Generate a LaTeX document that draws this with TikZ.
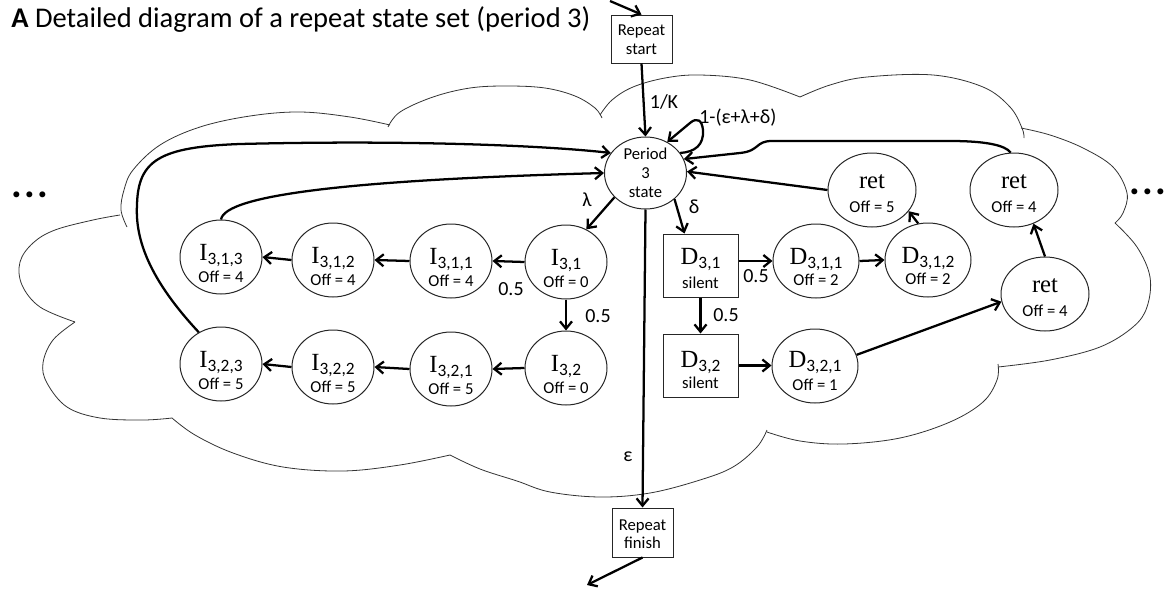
\documentclass[tikz,border=0pt]{standalone}
\usepackage{fontspec}
\setmainfont{Carlito}
\newfontfamily\tnr{Liberation Serif}
\usetikzlibrary{shapes.geometric,arrows.meta,calc}
\newcommand\lab[2]{{\tnr\fontsize{18.5}{20}\selectfont #1}\raisebox{-3pt}{\fontsize{13}{14}\selectfont #2}}
\begin{document}
\begin{tikzpicture}[x=0.75pt,y=-0.75pt,
  cl/.style={line width=0.6pt,draw=black!80},
  st/.style={ellipse,draw=black!85,line width=0.75pt,minimum width=61.5pt,minimum height=55.5pt,inner sep=0pt},
  dst/.style={st,minimum width=64.5pt},
  rst/.style={st,minimum width=66pt},
  sbox/.style={rectangle,draw=black!85,line width=0.75pt,inner sep=0pt},
  conn/.style={line width=1.7pt,-{Straight Barb[length=5.5pt,width=9pt]}},
  lbl/.style={font=\fontsize{15}{17}\selectfont,inner sep=0pt},
  sm/.style={font=\fontsize{12.5}{14}\selectfont,anchor=base,inner sep=0pt},
  bg/.style={anchor=base,inner sep=0pt},
  dots/.style={font=\fontsize{30}{30}\selectfont\bfseries,inner sep=0pt}
]
\useasboundingbox (0,0) rectangle (1168,589);

% title
\node[anchor=base west,inner sep=0pt,font=\fontsize{21.4}{24}\selectfont] (title) at (11,27) {\textbf{A} Detailed diagram of a repeat state set (period 3)};

% cloud
\draw[cl] plot[smooth,tension=0.6] coordinates {(127,227) (121,210) (124,190) (133,170) (160,145) (200,127) (250,116) (300,112) (350,117) (390,125)};
\draw[cl] plot[smooth,tension=0.6] coordinates {(388,127) (400,112) (433,97) (470,88) (507,86) (545,88) (575,96) (595,108) (602,118)};
\draw[cl] plot[smooth,tension=0.6] coordinates {(600,115) (612,100) (633,87) (665,78) (700,75) (750,80) (800,97)};
\draw[cl] plot[smooth,tension=0.6] coordinates {(800,97) (830,85) (867,77) (933,75) (983,87) (1010,107) (1022,128) (1024,138)};
\draw[cl] plot[smooth,tension=0.6] coordinates {(1021,128) (1050,135) (1083,148) (1113,167) (1127,193) (1123,213) (1115,223)};
\draw[cl] plot[smooth,tension=0.6] coordinates {(1115,223) (1137,247) (1150,277) (1147,307) (1133,327) (1100,347) (1050,360) (998,367)};
\draw[cl] plot[smooth,tension=0.6] coordinates {(998,364) (997,380) (983,402) (950,422) (900,438) (844,444) (800,441) (767,432)};
\draw[cl] plot[smooth,tension=0.6] coordinates {(767,430) (757,447) (733,467) (700,480) (650,493) (600,497) (550,492) (517,481) (480,469) (450,455)};
\draw[cl] plot[smooth,tension=0.6] coordinates {(450,455) (400,465) (343,471) (283,467) (233,453) (195,435) (172,418)};
\draw[cl] plot[smooth,tension=0.6] coordinates {(172,418) (143,420) (100,418) (67,407) (47,383) (43,363) (53,340) (75,322)};
\draw[cl] plot[smooth,tension=0.6] coordinates {(75,322) (40,307) (22,285) (20,262) (33,243) (55,230) (93,220) (120,215)};

% dots
\node[dots] (ldots) at (30,195) {.\hspace{1.5pt}.\hspace{1.5pt}.};
\node[dots] (rdots) at (1148,192) {.\hspace{1.5pt}.\hspace{1.5pt}.};

% repeat start / finish
\node[sbox,minimum width=45.75pt,minimum height=36pt] (RS) at (641.5,39) {};
\node[sm] (RSa) at (641.5,36) {Repeat};
\node[sm] (RSb) at (641.5,54) {start};
\node[sbox,minimum width=45.75pt,minimum height=36.75pt] (RF) at (642.5,532.5) {};
\node[sm] (RFa) at (642.5,530) {Repeat};
\node[sm] (RFb) at (642.5,548) {finish};
\coordinate (rsin) at (610,1);
\coordinate (rfout) at (587,585);

% period state
\node[st,minimum width=61.5pt,minimum height=54pt] (P) at (645.5,173) {};
\node[sm] (Pa) at (645.5,159) {Period};
\node[sm] (Pb) at (645.5,178) {3};
\node[sm] (Pc) at (645.5,197) {state};

% insertion states
\node[st] (I31) at (566,262) {};
\node[bg] (I31t) at ($(I31)+(0,3)$) {\lab{I}{3,1}};
\node[sm] (I31o) at ($(I31)+(0,25)$) {Off = 0};
\node[st] (I311) at (451,261) {};
\node[bg] (I311t) at ($(I311)+(0,3)$) {\lab{I}{3,1,1}};
\node[sm] (I311o) at ($(I311)+(0,25)$) {Off = 4};
\node[st] (I312) at (333,260) {};
\node[bg] (I312t) at ($(I312)+(0,3)$) {\lab{I}{3,1,2}};
\node[sm] (I312o) at ($(I312)+(0,25)$) {Off = 4};
\node[st] (I313) at (221,257) {};
\node[bg] (I313t) at ($(I313)+(0,3)$) {\lab{I}{3,1,3}};
\node[sm] (I313o) at ($(I313)+(0,25)$) {Off = 4};
\node[st] (I32) at (566,368) {};
\node[bg] (I32t) at ($(I32)+(0,3)$) {\lab{I}{3,2}};
\node[sm] (I32o) at ($(I32)+(0,25)$) {Off = 0};
\node[st] (I321) at (451,369) {};
\node[bg] (I321t) at ($(I321)+(0,3)$) {\lab{I}{3,2,1}};
\node[sm] (I321o) at ($(I321)+(0,25)$) {Off = 5};
\node[st] (I322) at (333,367) {};
\node[bg] (I322t) at ($(I322)+(0,3)$) {\lab{I}{3,2,2}};
\node[sm] (I322o) at ($(I322)+(0,25)$) {Off = 5};
\node[st] (I323) at (221,364) {};
\node[bg] (I323t) at ($(I323)+(0,3)$) {\lab{I}{3,2,3}};
\node[sm] (I323o) at ($(I323)+(0,25)$) {Off = 5};

% deletion states
\node[sbox,minimum width=56.25pt,minimum height=47.25pt] (D31) at (700.5,265.5) {};
\node[bg] (D31t) at (700.5,264) {\lab{D}{3,1}};
\node[sm] (D31o) at (700.5,288) {silent};
\node[sbox,minimum width=56.25pt,minimum height=47.25pt] (D32) at (700.5,365.5) {};
\node[bg] (D32t) at (700.5,367) {\lab{D}{3,2}};
\node[sm] (D32o) at (700.5,388) {silent};
\node[dst] (D311) at (816,261) {};
\node[bg] (D311t) at ($(D311)+(0,3)$) {\lab{D}{3,1,1}};
\node[sm] (D311o) at ($(D311)+(0,24)$) {Off = 2};
\node[dst] (D312) at (928,260) {};
\node[bg] (D312t) at ($(D312)+(0,3)$) {\lab{D}{3,1,2}};
\node[sm] (D312o) at ($(D312)+(0,24)$) {Off = 2};
\node[dst] (D321) at (815,366) {};
\node[bg] (D321t) at ($(D321)+(0,1)$) {\lab{D}{3,2,1}};
\node[sm] (D321o) at ($(D321)+(0,24)$) {Off = 1};

% return states
\node[rst] (R5) at (872,190) {};
\node[bg] (R5t) at ($(R5)+(0,-2)$) {\tnr\fontsize{18.5}{20}\selectfont ret};
\node[sm] (R5o) at ($(R5)+(0,22)$) {Off = 5};
\node[rst] (R4u) at (1014,190) {};
\node[bg] (R4ut) at ($(R4u)+(0,-2)$) {\tnr\fontsize{18.5}{20}\selectfont ret};
\node[sm] (R4uo) at ($(R4u)+(0,22)$) {Off = 4};
\node[rst] (R4l) at (1045,294) {};
\node[bg] (R4lt) at ($(R4l)+(0,-2)$) {\tnr\fontsize{18.5}{20}\selectfont ret};
\node[sm] (R4lo) at ($(R4l)+(0,22)$) {Off = 4};

% labels
\node[lbl] (lK) at (664,102) {1/K};
\node[lbl,anchor=west] (lloop) at (699,118) {1-(ε+λ+δ)};
\node[lbl] (llam) at (587,200) {λ};
\node[lbl] (ldel) at (694,207) {δ};
\node[lbl] (leps) at (628,457) {ε};
\node[lbl] (lI1) at (511,289) {0.5};
\node[lbl] (lI2) at (598,316) {0.5};
\node[lbl] (lD1) at (756,276) {0.5};
\node[lbl] (lD2) at (726,315) {0.5};

% connectors
\draw[conn] (rsin) -- (RS.north);
\draw[conn] (RS.south) -- (P.north);
\draw[conn] (P.30) .. controls (695,152) and (704,145) .. (703,130) .. controls (702,120) and (697,117) .. (690,123) -- (P.55);
\draw[conn] (P.218) -- (I31.58);
\draw[conn] (P.-42) -- ($(D31.north west)+(22,0)$);
\draw[conn] (P.south) -- (RF.north);
\draw[conn] (RF.south) -- (rfout);

\draw[conn] (I31.west) -- (I311.east);
\draw[conn] (I311.west) -- (I312.east);
\draw[conn] (I312.west) -- (I313.east);
\draw[conn] (I31.south) -- (I32.north);
\draw[conn] (I32.west) -- (I321.east);
\draw[conn] (I321.west) -- (I322.east);
\draw[conn] (I322.west) -- (I323.east);
\draw[conn] (I313.north) .. controls (225,195) and (350,180) .. (P.west);
\draw[conn] (I323.125) .. controls (150,280) and (135,240) .. (137,205) .. controls (138,160) and (160,147) .. (240,144) .. controls (400,140) and (540,145) .. (P.150);

\draw[conn] (D31.east |- D311.west) -- (D311.west);
\draw[conn] (D31.south) -- (D32.north);
\draw[conn] (D311.east) -- (D312.west);
\draw[conn] (D32.east) -- (D32.east -| D321.west);
\draw[conn] (D312.105) -- (R5.-30);
\draw[conn] (R5.west) -- (P.2);
\draw[conn] (D321.15) -- (R4l.190);
\draw[conn] (R4l.north) -- (R4u.-60);
\draw[conn] (R4u.95) .. controls (1005,145) and (985,141) .. (950,141) -- (772,141) .. controls (755,141) and (760,151) .. (740,153) -- (P.20);
\end{tikzpicture}
\end{document}
